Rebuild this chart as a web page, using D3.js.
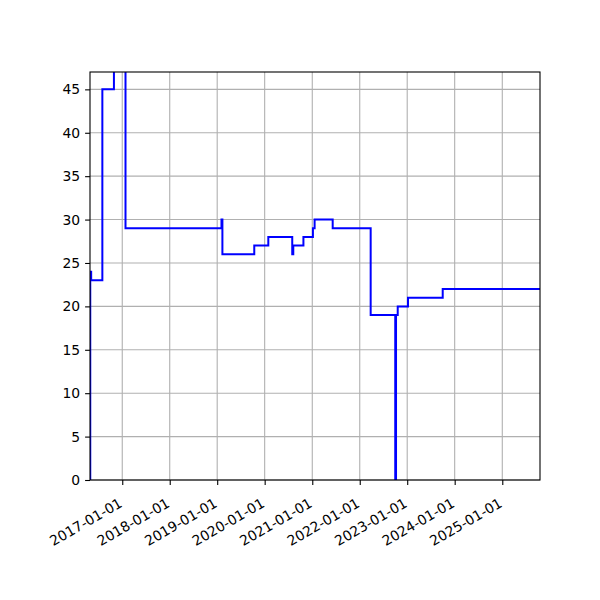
<!DOCTYPE html>
<html>
<head>
<meta charset="utf-8">
<script src="https://cdn.jsdelivr.net/npm/d3@7"></script>
<style>
  body { margin: 0; background: #ffffff; }
  .frame text { font-family: "DejaVu Sans", sans-serif; }
</style>
</head>
<body>
<div id="chart"></div>
<script>
// Frame and margins (matplotlib-like layout)
const FRAME_HEIGHT = 600;
const FRAME_WIDTH = 600;
const MARGINS = {left: 90, right: 60, top: 72, bottom: 120};

const VIS_HEIGHT = FRAME_HEIGHT - MARGINS.top - MARGINS.bottom;
const VIS_WIDTH = FRAME_WIDTH - MARGINS.left - MARGINS.right;

// Step data: each value holds from its date until the next one
const dates = ["2016-04-28", "2016-04-30", "2016-05-07", "2016-08-01", "2016-10-29",
               "2017-01-26", "2019-02-03", "2019-02-10", "2019-10-13", "2020-01-29",
               "2020-07-31", "2020-08-08", "2020-10-25", "2021-01-06", "2021-01-19",
               "2021-06-07", "2022-03-26", "2022-10-01", "2022-10-07", "2022-10-20",
               "2023-01-07", "2023-10-01", "2025-10-18"];
const values = [0, 24, 23, 45, 50,
                29, 30, 26, 27, 28,
                26, 27, 28, 29, 30,
                29, 19, 0, 19, 20,
                21, 22, 22];

const yTicks = [0, 5, 10, 15, 20, 25, 30, 35, 40, 45];
const yLimits = [0, 47];

const parseDate = d3.timeParse("%Y-%m-%d");
const formatDate = d3.timeFormat("%Y-%m-%d");
const data = dates.map((d, i) => ({date: parseDate(d), value: values[i]}));

const FRAME = d3.select("#chart")
                  .append("svg")
                    .attr("width", FRAME_WIDTH)
                    .attr("height", FRAME_HEIGHT)
                    .attr("class", "frame");

const X_SCALE = d3.scaleTime()
    .domain(d3.extent(data, d => d.date))
    .range([0, VIS_WIDTH]);

const Y_SCALE = d3.scaleLinear()
    .domain(yLimits)
    .range([VIS_HEIGHT, 0]);

const xTicks = X_SCALE.ticks(d3.timeYear.every(1));

const plot = FRAME.append("g")
    .attr("transform", "translate(" + MARGINS.left + "," + MARGINS.top + ")");

// grid lines
plot.append("g")
    .selectAll("line")
    .data(xTicks)
    .enter()
    .append("line")
      .attr("x1", d => X_SCALE(d))
      .attr("x2", d => X_SCALE(d))
      .attr("y1", 0)
      .attr("y2", VIS_HEIGHT)
      .attr("stroke", "#b0b0b0")
      .attr("stroke-width", 1.1);

plot.append("g")
    .selectAll("line")
    .data(yTicks)
    .enter()
    .append("line")
      .attr("x1", 0)
      .attr("x2", VIS_WIDTH)
      .attr("y1", d => Y_SCALE(d))
      .attr("y2", d => Y_SCALE(d))
      .attr("stroke", "#b0b0b0")
      .attr("stroke-width", 1.1);

// clip so values above the y limit get cut off
plot.append("clipPath")
    .attr("id", "clip")
  .append("rect")
    .attr("width", VIS_WIDTH)
    .attr("height", VIS_HEIGHT);

const line = d3.line()
    .x(d => X_SCALE(d.date))
    .y(d => Y_SCALE(d.value))
    .curve(d3.curveStepAfter);

plot.append("path")
    .datum(data)
    .attr("clip-path", "url(#clip)")
    .attr("fill", "none")
    .attr("stroke", "#0000ff")
    .attr("stroke-width", 2)
    .attr("d", line);

// x-axis
const xAxis = plot.append("g")
    .attr("transform", "translate(0," + VIS_HEIGHT + ")")
    .call(d3.axisBottom(X_SCALE).tickValues(xTicks).tickFormat(formatDate)
            .tickSize(4.9).tickPadding(4.9).tickSizeOuter(0));

xAxis.selectAll("text")
    .attr("font-size", "13.9px")
    .attr("fill", "#000")
    .attr("text-anchor", "end")
    .attr("dy", null)
    .attr("y", null)
    .attr("transform", "translate(0.5,26) rotate(-30)");

// y-axis
const yAxis = plot.append("g")
    .call(d3.axisLeft(Y_SCALE).tickValues(yTicks)
            .tickSize(4.9).tickPadding(4.9).tickSizeOuter(0));

yAxis.attr("font-family", "DejaVu Sans");
xAxis.attr("font-family", "DejaVu Sans");

yAxis.selectAll("text")
    .attr("font-size", "13.9px")
    .attr("fill", "#000");

FRAME.selectAll(".domain").remove();
FRAME.selectAll(".tick line").attr("stroke", "#000").attr("stroke-width", 1.1);

// spines
plot.append("rect")
    .attr("width", VIS_WIDTH)
    .attr("height", VIS_HEIGHT)
    .attr("fill", "none")
    .attr("stroke", "#000")
    .attr("stroke-width", 1.1);
</script>
</body>
</html>
